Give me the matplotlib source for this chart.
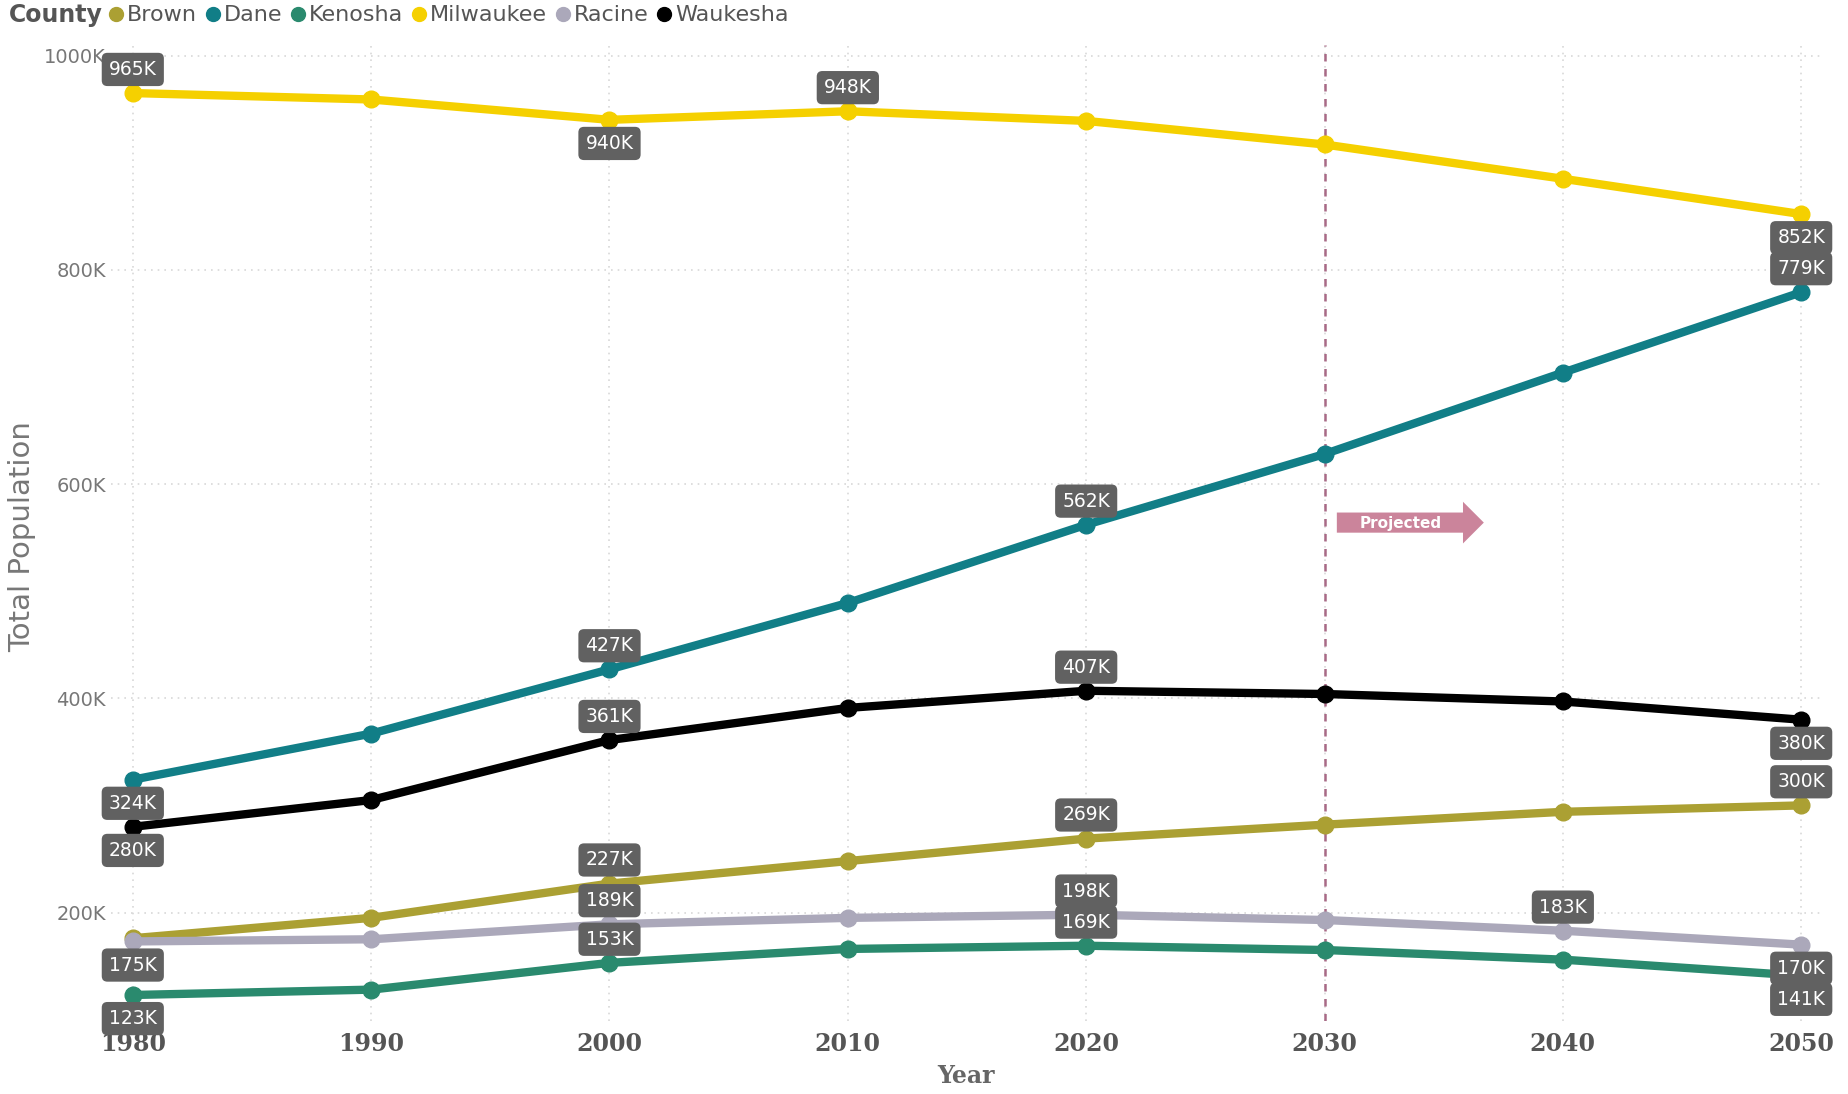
import matplotlib
matplotlib.use("Agg")
from matplotlib import pyplot as plt
from matplotlib.lines import Line2D
from matplotlib.ticker import FuncFormatter

years = [1980, 1990, 2000, 2010, 2020, 2030, 2040, 2050]

# population in thousands
brown = [176, 195, 227, 248, 269, 282, 294, 300]
dane = [324, 367, 427, 489, 562, 628, 704, 779]
kenosha = [123, 128, 153, 166, 169, 165, 156, 141]
milwaukee = [965, 959, 940, 948, 939, 917, 885, 852]
racine = [173, 175, 189, 195, 198, 193, 183, 170]
waukesha = [280, 305, 361, 391, 407, 404, 397, 380]

counties = ['Brown', 'Dane', 'Kenosha', 'Milwaukee', 'Racine', 'Waukesha']
colors = {'Brown': '#ABA033', 'Dane': '#117E87', 'Kenosha': '#2A8A6E',
          'Milwaukee': '#F5D000', 'Racine': '#ABA8BA', 'Waukesha': '#000000'}
series = {'Brown': brown, 'Dane': dane, 'Kenosha': kenosha,
          'Milwaukee': milwaukee, 'Racine': racine, 'Waukesha': waukesha}

# which points get a data label, and above (+1) or below (-1)
labels = [
    ('Milwaukee', 1980, 1), ('Milwaukee', 2000, -1), ('Milwaukee', 2010, 1), ('Milwaukee', 2050, -1),
    ('Dane', 1980, -1), ('Dane', 2000, 1), ('Dane', 2020, 1), ('Dane', 2050, 1),
    ('Waukesha', 1980, -1), ('Waukesha', 2000, 1), ('Waukesha', 2020, 1), ('Waukesha', 2050, -1),
    ('Brown', 2000, 1), ('Brown', 2020, 1), ('Brown', 2050, 1),
    ('Racine', 1980, -1), ('Racine', 2000, 1), ('Racine', 2020, 1), ('Racine', 2040, 1), ('Racine', 2050, -1),
    ('Kenosha', 1980, -1), ('Kenosha', 2000, 1), ('Kenosha', 2020, 1), ('Kenosha', 2050, -1),
]
label_text = {('Racine', 1980): '175K'}

narrow = ['Liberation Sans Narrow', 'DejaVu Sans']

fig = plt.figure(figsize=(18.48, 10.94), dpi=100)
ax = fig.add_axes([0.06, 0.067, 0.925, 0.892])

for c in counties:
    ax.plot(years, series[c], color=colors[c], lw=6, marker='o', ms=12,
            solid_capstyle='round', zorder=3)

for c, yr, side in labels:
    v = series[c][years.index(yr)]
    txt = label_text.get((c, yr), '%dK' % v)
    ax.annotate(txt, (yr, v), xytext=(0, 17 * side), textcoords='offset points',
                ha='center', va='center', color='white', fontsize=13.5, family=narrow,
                bbox=dict(boxstyle='round,pad=0.38,rounding_size=0.3', fc='#616161', ec='none'),
                zorder=5)

# projection marker
ax.axvline(2030, color='#A86A86', ls=(0, (3, 3)), lw=1.8, zorder=2)
ax.annotate('', xy=(2036.8, 564), xytext=(2030.4, 564),
            arrowprops=dict(arrowstyle='simple,head_width=3.0,head_length=1.5,tail_width=1.45',
                            fc='#CB849B', ec='none'), zorder=4)
ax.text(2033.2, 563, 'Projected', ha='center', va='center', color='white',
        fontsize=11, fontweight='bold', family=narrow, zorder=5)

ax.set_xlim(1979.08, 2050.8)
ax.set_ylim(99, 1010)
ax.set_xticks(years)
ax.set_yticks([200, 400, 600, 800, 1000])
ax.yaxis.set_major_formatter(FuncFormatter(lambda v, p: '%dK' % v))
for s in ax.spines.values():
    s.set_visible(False)
ax.tick_params(length=0)
ax.tick_params(axis='x', pad=8)
for t in ax.get_xticklabels():
    t.set_fontfamily('DejaVu Serif')
    t.set_fontweight('bold')
    t.set_fontsize(17)
    t.set_color('#555555')
for t in ax.get_yticklabels():
    t.set_fontfamily(narrow)
    t.set_fontsize(14)
    t.set_color('#777777')
ax.grid(True, color='#D8D8D8', ls=(0, (1, 3)), lw=1.2)
ax.set_axisbelow(True)

ax.set_xlabel('Year', fontsize=17, family='DejaVu Serif', fontweight='bold', color='#666666', labelpad=6)
ax.set_ylabel('Total Population', fontsize=21, color='#777777')
ax.yaxis.set_label_coords(-0.0435, 0.496)

fig.text(0.005, 0.986, 'County', fontsize=17, fontweight='bold', color='#555555',
         family=narrow, va='center')
handles = [Line2D([], [], ls='none', marker='o', ms=10, color=colors[c]) for c in counties]
fig.legend(handles, counties, loc='center left', bbox_to_anchor=(0.052, 0.986), ncol=6,
           frameon=False, handletextpad=0.0, columnspacing=0.2, handlelength=1.0,
           prop={'family': narrow, 'size': 16}, labelcolor='#555555', borderaxespad=0)

fig.savefig('out.png', dpi=100)
